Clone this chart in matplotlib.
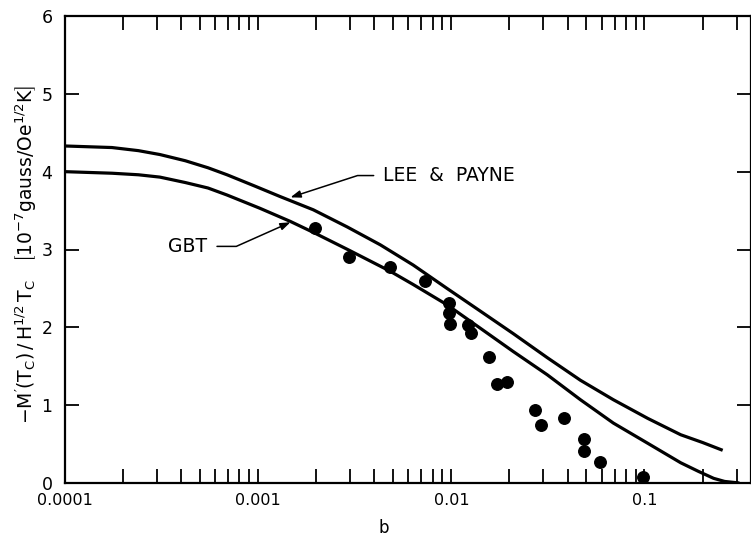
import matplotlib
matplotlib.use("Agg")
import matplotlib.pyplot as plt
from matplotlib.ticker import FixedLocator, FixedFormatter, LogLocator, NullFormatter

# curves
lp_b = [1.0e-4, 1.75e-4, 2.4e-4, 3.1e-4, 4.2e-4, 5.5e-4, 6.9e-4, 9.5e-4, 1.3e-3, 1.93e-3,
        2.89e-3, 4.29e-3, 6.35e-3, 9.5e-3, 0.0141, 0.0209, 0.0314, 0.0466, 0.069, 0.104,
        0.154, 0.2, 0.254]
lp_m = [4.33, 4.31, 4.27, 4.22, 4.14, 4.05, 3.96, 3.82, 3.68, 3.51,
        3.29, 3.06, 2.80, 2.50, 2.21, 1.92, 1.61, 1.32, 1.07, 0.83,
        0.62, 0.52, 0.42]

gbt_b = [1.0e-4, 1.75e-4, 2.4e-4, 3.1e-4, 4.2e-4, 5.5e-4, 6.9e-4, 1.02e-3, 1.47e-3, 1.93e-3,
         2.96e-3, 4.83e-3, 6.35e-3, 9.5e-3, 0.0141, 0.0209, 0.0314, 0.0466, 0.069, 0.104,
         0.154, 0.19, 0.228, 0.26, 0.31]
gbt_m = [4.00, 3.98, 3.96, 3.93, 3.86, 3.79, 3.70, 3.53, 3.36, 3.22,
         2.99, 2.72, 2.55, 2.29, 1.99, 1.69, 1.39, 1.07, 0.77, 0.51,
         0.26, 0.15, 0.06, 0.02, 0.0]

# measured points
pts_b = [0.00197, 0.00296, 0.00483, 0.00733, 0.00976, 0.00976, 0.00988, 0.01225, 0.0127,
         0.0157, 0.0173, 0.0195, 0.0272, 0.0292, 0.0385, 0.0488, 0.0488, 0.0585, 0.0988]
pts_m = [3.28, 2.91, 2.78, 2.60, 2.31, 2.19, 2.04, 2.03, 1.93,
         1.62, 1.27, 1.30, 0.94, 0.75, 0.84, 0.56, 0.41, 0.27, 0.08]

xticks = [1e-4, 1e-3, 1e-2, 1e-1]
xtick_labels = ["0.0001", "0.001", "0.01", "0.1"]
yticks = [0, 1, 2, 3, 4, 5, 6]

plt.rcParams['mathtext.default'] = 'regular'
plt.rcParams['font.family'] = ['DejaVu Sans']

fig = plt.figure(figsize=(7.51, 5.36), dpi=100)
ax = fig.add_axes([65 / 751, 53 / 536, 686 / 751, 467 / 536])

ax.plot(lp_b, lp_m, color='black', lw=2.3, solid_capstyle='butt')
ax.plot(gbt_b, gbt_m, color='black', lw=2.3, solid_capstyle='butt')
ax.plot(pts_b, pts_m, 'o', color='black', markersize=8.3, clip_on=False)

ax.set_xscale('log')
ax.set_xlim(1e-4, 0.356)
ax.set_ylim(0, 6)

ax.xaxis.set_major_locator(FixedLocator(xticks))
ax.xaxis.set_major_formatter(FixedFormatter(xtick_labels))
ax.xaxis.set_minor_locator(LogLocator(base=10, subs=range(2, 10)))
ax.xaxis.set_minor_formatter(NullFormatter())
ax.set_yticks(yticks)

ax.tick_params(which='both', direction='in', top=True, right=True, width=1.3, color='black')
ax.tick_params(axis='x', which='both', length=10, pad=7, labelsize=11.5)
ax.tick_params(axis='y', which='major', length=10, pad=9, labelsize=12.5)
for sp in ax.spines.values():
    sp.set_linewidth(1.6)

ax.set_xlabel('b', fontsize=12)
ax.xaxis.set_label_coords(0.464, -0.077)
ax.set_ylabel(r"$-M^{\prime}(T_C)\,/\,H^{1/2}\,T_C\quad\left[10^{-7}gauss/Oe^{1/2}K\right]$", fontsize=13.5)
ax.yaxis.set_label_coords(-0.038, 0.49)

arrow = dict(arrowstyle='-|>,head_length=0.5,head_width=0.18', color='black', lw=1.1,
             mutation_scale=12, shrinkA=5, shrinkB=0, relpos=(0, 0.5),
             connectionstyle='angle,angleA=0,angleB=18,rad=0')
ax.annotate('LEE  &  PAYNE', xy=(0.00147, 3.67), xytext=(0.00445, 3.95),
            ha='left', va='center', fontsize=13.5, arrowprops=arrow)
arrow2 = dict(arrow, relpos=(1, 0.5), connectionstyle='angle,angleA=0,angleB=24,rad=0')
ax.annotate('GBT', xy=(0.00147, 3.35), xytext=(0.000342, 3.04),
            ha='left', va='center', fontsize=13.5, arrowprops=arrow2)

fig.savefig('out.png', dpi=100)
